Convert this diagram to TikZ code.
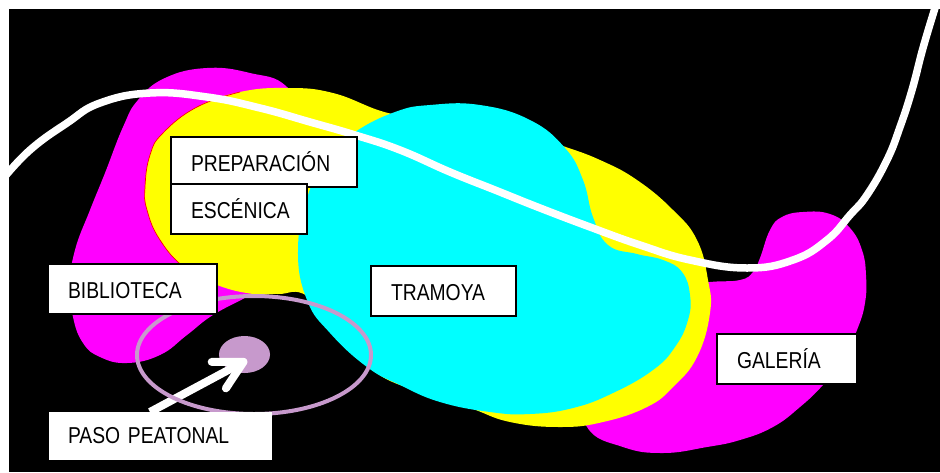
\documentclass[tikz,border=0pt]{standalone}
\usepackage{fontspec}
\setmainfont[FakeStretch=0.84]{Liberation Sans}
\usetikzlibrary{arrows.meta}
\usetikzlibrary{shapes.geometric}
\definecolor{lila}{RGB}{199,153,204}
\definecolor{rosa}{RGB}{255,0,255}
\definecolor{amarillo}{RGB}{255,255,0}
\definecolor{celeste}{RGB}{0,255,255}
\tikzset{
    etiqueta/.style={draw=black, line width=2pt, fill=white, anchor=north west, inner xsep=20pt, inner ysep=0pt, minimum height=50pt, text height=18pt, text depth=0pt, align=left, font=\fontsize{23}{26}\selectfont},
    mancha/.style={smooth cycle, tension=.75},
}

\begin{document}
\begin{tikzpicture}[x=1pt, y=-1pt]
    \useasboundingbox (0,0) rectangle (940,472);
    \fill[white] (0,0) rectangle (940,472);
    \fill[black] (9,9) rectangle (940,472);
    \fill[rosa] plot[mancha] coordinates {(207,68) (250,73) (287,87) (310,130) (310,200) (290,270) (250,295) (213,315) (187,335) (160,355) (127,363) (100,357) (83,343) (73,317) (70,285) (75,250) (90,210) (105,173) (123,127) (138,100) (165,78)};
    \fill[rosa] plot[mancha] coordinates {(803,212) (830,214) (850,228) (862,250) (866,275) (865,303) (857,330) (843,360) (823,385) (800,407) (773,427) (740,440) (707,447) (663,453) (623,447) (587,427) (580,380) (620,320) (670,287) (710,282) (740,280) (753,272) (760,258) (770,230) (782,217)};
    \fill[amarillo] plot[mancha] coordinates {(287,88) (333,93) (388,113) (440,120) (500,125) (560,145) (600,160) (637,180) (673,210) (697,240) (708,280) (710,313) (697,357) (673,387) (647,407) (603,422) (560,427) (510,422) (470,408) (420,392) (375,372) (340,335) (307,296) (278,294) (253,294) (217,285) (185,268) (160,240) (147,210) (145,187) (150,155) (163,133) (197,107) (240,92)};
    \draw[red, line width=.7pt] plot[smooth, tension=.75] coordinates {(240,92) (197,107) (163,133) (150,155) (145,187) (147,210) (160,240) (185,268) (217,285)};
    \fill[celeste] plot[mancha] coordinates {(430,105) (480,105) (530,120) (565,148) (583,180) (593,217) (608,245) (637,254) (663,260) (682,272) (690,295) (688,320) (675,347) (653,370) (613,393) (573,408) (530,414) (490,412) (440,402) (400,385) (367,367) (330,333) (307,300) (298,250) (308,195) (330,155) (355,132) (395,112)};
    \draw[white, line width=7.5pt] plot[smooth, tension=.75] coordinates {(2,180) (30,150) (67,123) (100,103) (150,93) (207,97) (260,108) (310,122) (355,135) (400,150) (450,172) (495,190) (540,208) (590,227) (640,245) (690,260) (747,268) (793,260) (827,240) (850,215) (867,195) (887,160) (900,127) (912,90) (923,48) (935,8)};
    \node[ellipse, fill=lila, inner sep=0pt, minimum width=51pt, minimum height=37pt] (punto) at (244.5,354.5) {};
    \coordinate (flechaini) at (150,412);
    \coordinate (flechafin) at (247,360);
    \draw[white, line width=8pt, arrows={-{Straight Barb[length=28pt,width=30pt,round]}}] (flechaini) -- (flechafin);
    \node[ellipse, draw=lila, line width=4pt, inner sep=0pt, minimum width=234pt, minimum height=118pt] (anillo) at (254,355) {};
    \node[etiqueta, text width=146pt] (preparacion) at (170,136) {PREPARACIÓN};
    \node[etiqueta, text width=96pt] (escenica) at (170,183) {ESCÉNICA};
    \node[etiqueta, text width=129pt] (biblioteca) at (47,263) {BIBLIOTECA};
    \node[etiqueta, text width=105pt] (tramoya) at (370,265) {TRAMOYA};
    \node[etiqueta, text width=100pt] (galeria) at (716,333) {GALERÍA};
    \node[etiqueta, draw=none, inner xsep=19pt, text width=185pt, minimum height=48pt, text height=14pt] (paso) at (48,411) {PASO PEATONAL};
\end{tikzpicture}
\end{document}
